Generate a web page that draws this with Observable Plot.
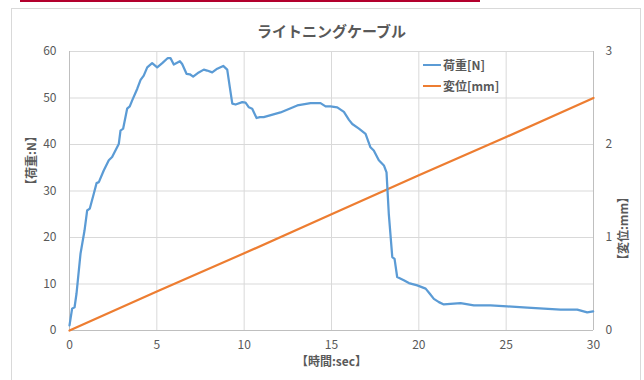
<!DOCTYPE html>
<html><head><meta charset="utf-8">
<script src="https://cdn.jsdelivr.net/npm/d3@7"></script>
<script src="https://cdn.jsdelivr.net/npm/@observablehq/plot@0.6"></script>
<style>
body{margin:0;background:#fff;}
#wrap{position:relative;width:644px;height:380px;overflow:hidden;font-family:"Noto Sans CJK JP","Noto Sans",sans-serif;}
#redbar{position:absolute;left:20px;top:0;width:460px;height:2px;background:#b3002d;}
#frame{position:absolute;left:11px;top:8px;width:630px;height:390px;border:1px solid #d9d9d9;box-sizing:border-box;}
#legend{position:absolute;left:423px;top:54px;font-size:12px;font-weight:bold;color:#595959;line-height:21px;}
#legend div{display:flex;align-items:center;}
#legend span.sw{display:inline-block;width:18px;height:2px;margin-right:2px;}
svg{position:absolute;left:0;top:0;}
</style>
</head><body>
<div id="wrap"><div id="frame"></div><div id="redbar"></div></div>
<script>
const title = "ライトニングケーブル";
const xLabel = "【時間:sec】";
const yLabelLeft = "【荷重:N】";
const yLabelRight = "【変位:mm】";
const seriesNames = ["荷重[N]", "変位[mm]"];
const seriesColors = ["#5B9BD5", "#ED7D31"];

const loadTime = [0.0,0.15,0.29,0.40,0.63,0.86,1.01,1.16,1.39,1.55,1.68,1.96,2.25,2.44,2.82,2.92,3.07,3.30,3.45,3.59,3.88,4.07,4.25,4.45,4.73,5.02,5.31,5.63,5.78,5.97,6.32,6.45,6.70,6.89,7.08,7.40,7.69,7.88,8.17,8.46,8.80,9.03,9.18,9.32,9.51,9.89,10.08,10.27,10.46,10.71,10.90,11.12,12.08,13.04,13.80,14.37,14.66,14.94,15.33,15.71,16.00,16.19,16.57,16.95,17.23,17.42,17.71,18.00,18.15,18.28,18.48,18.61,18.76,19.14,19.43,19.91,20.39,20.63,20.86,21.15,21.43,21.81,22.39,23.15,24.10,25.06,26.21,27.16,28.11,29.07,29.64,29.98];
const loadN = [1.1,4.7,5.0,7.9,16.5,21.5,25.8,26.2,29.4,31.7,31.9,34.4,36.6,37.3,40.1,43.0,43.4,47.7,48.2,49.5,52.0,53.9,54.8,56.6,57.5,56.6,57.5,58.6,58.6,57.2,57.9,57.3,55.2,55.1,54.6,55.5,56.1,55.9,55.5,56.3,56.9,56.1,52.3,48.8,48.6,49.1,49.0,48.0,47.7,45.7,45.9,45.9,46.9,48.4,48.9,48.9,48.2,48.2,48.0,47.0,45.3,44.4,43.4,42.3,39.4,38.7,36.6,35.5,34.0,25.1,15.8,15.4,11.5,10.8,10.2,9.7,9.0,7.9,6.8,6.1,5.6,5.7,5.9,5.4,5.4,5.2,4.9,4.7,4.5,4.5,3.9,4.1];
const dispTime = [0,5,10,15,20,25,30];
const dispMm = [0,0.42,0.83,1.25,1.67,2.08,2.5];

const xTicks = [0,5,10,15,20,25,30];
const yTicksLeft = [0,10,20,30,40,50,60];
const yTicksRight = [0,1,2,3];
const ratio = 60 / 3;

const load = loadTime.map((t,i)=>({t, v: loadN[i]}));
const disp = dispTime.map((t,i)=>({t, v: dispMm[i]}));

const tickColor = "#595959";
const font = '"Noto Sans CJK JP","Noto Sans",sans-serif';

const chart = Plot.plot({
  width: 644, height: 380,
  marginLeft: 69, marginRight: 51, marginTop: 51, marginBottom: 50,
  style: {fontFamily: font, fontSize: "12px", color: tickColor, background: "transparent"},
  x: {domain: [0,30]},
  y: {domain: [0,60]},
  marks: [
    Plot.gridX(xTicks, {stroke: "#d9d9d9", strokeOpacity: 1}),
    Plot.gridY(yTicksLeft, {stroke: "#d9d9d9", strokeOpacity: 1}),
    Plot.ruleX([0, 30], {stroke: "#bfbfbf"}),
    Plot.ruleY([0], {stroke: "#bfbfbf"}),
    Plot.axisX(xTicks, {tickSize: 0, tickPadding: 10, label: null, fill: tickColor}),
    Plot.axisY(yTicksLeft, {anchor: "left", tickSize: 0, tickPadding: 13, label: null, fill: tickColor}),
    Plot.axisY(yTicksRight.map(d => d * ratio), {anchor: "right", tickSize: 0, tickPadding: 12, label: null, fill: tickColor, tickFormat: d => d / ratio}),
    Plot.line(disp, {x: "t", y: d => d.v * ratio, stroke: seriesColors[1], strokeWidth: 2.25}),
    Plot.line(load, {x: "t", y: "v", stroke: seriesColors[0], strokeWidth: 2.25}),
    Plot.text([title], {frameAnchor: "top", dy: -25, fontSize: 15, fontWeight: "bold", fill: tickColor}),
    Plot.text([xLabel], {frameAnchor: "bottom", dy: 35, fontSize: 12, fontWeight: "bold", fill: tickColor}),
    Plot.text([yLabelLeft], {frameAnchor: "left", dx: -37, rotate: -90, fontSize: 12, fontWeight: "bold", fill: tickColor}),
    Plot.text([yLabelRight], {frameAnchor: "right", dx: 31, rotate: -90, fontSize: 12, fontWeight: "bold", fill: tickColor})
  ]
});
const wrap = document.getElementById("wrap");
wrap.appendChild(chart);

const legend = document.createElement("div");
legend.id = "legend";
seriesNames.forEach((name, i) => {
  const row = document.createElement("div");
  const sw = document.createElement("span");
  sw.className = "sw";
  sw.style.background = seriesColors[i];
  row.appendChild(sw);
  row.appendChild(document.createTextNode(name));
  legend.appendChild(row);
});
wrap.appendChild(legend);
</script>
</body></html>
